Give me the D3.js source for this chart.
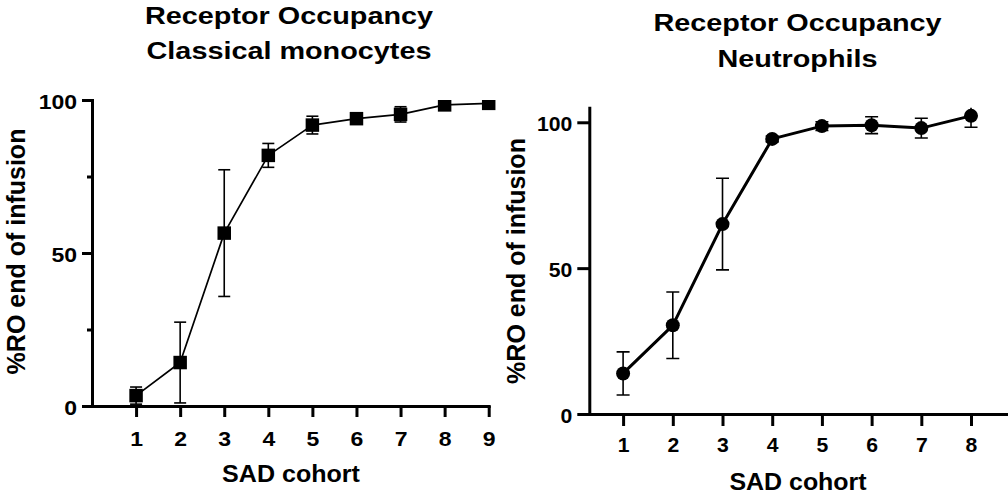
<!DOCTYPE html>
<html>
<head>
<meta charset="utf-8">
<script src="https://cdn.jsdelivr.net/npm/d3@7"></script>
<style>
  html, body { margin: 0; padding: 0; background: #fff; }
  svg { display: block; }
</style>
</head>
<body>
<script>
// ---- Data -------------------------------------------------------------
// Classical monocytes: mean %RO and SD per SAD cohort
const monoCohorts = [1, 2, 3, 4, 5, 6, 7, 8, 9];
const monoMean    = [3.4, 14.2, 56.5, 81.9, 91.8, 93.9, 95.3, 98.4, 98.9];
const monoSD      = [2.8, 13.2, 20.7, 3.9, 2.9, 1.8, 2.5, 1.0, 0.6];

// Neutrophils: mean %RO and SD per SAD cohort
const neutCohorts = [1, 2, 3, 4, 5, 6, 7, 8];
const neutMean    = [13.9, 30.4, 65.1, 94.3, 98.7, 99.0, 98.0, 102.2];
const neutSD      = [7.4, 11.4, 15.7, 1.0, 1.5, 2.9, 3.4, 3.9];

const yMajorTicks = [0, 50, 100];
const yMinorTicks = [25, 75];

const titleTop   = "Receptor Occupancy";
const monoTitle  = "Classical monocytes";
const neutTitle  = "Neutrophils";
const yLabelText = "%RO end of infusion";
const xLabelText = "SAD cohort";

// ---- Setup --------------------------------------------------------------
const FONT = "'Liberation Sans', Arial, Helvetica, sans-serif";
const W = 1008, H = 494;

const svg = d3.select("body").append("svg")
  .attr("width", W).attr("height", H)
  .attr("viewBox", `0 0 ${W} ${H}`);

// Bold text, optionally widened horizontally
function addText(parent, str, x, y, size, sx, anchor, rotate) {
  const tr = rotate
    ? `translate(${x},${y}) rotate(${rotate})`
    : `translate(${x},${y}) scale(${sx},1)`;
  return parent.append("text")
    .attr("transform", tr)
    .attr("text-anchor", anchor || "middle")
    .attr("font-family", FONT)
    .attr("font-weight", "bold")
    .attr("font-size", size)
    .attr("fill", "#000")
    .text(str);
}

function drawPanel(p) {
  const g = svg.append("g");
  const x = d3.scaleLinear().domain(p.xDomain).range(p.xRange);
  const y = d3.scaleLinear().domain(p.yDomain).range(p.yRange);

  // clip marks to the plotting area
  const clipId = "clip-" + p.id;
  svg.append("clipPath").attr("id", clipId)
    .append("rect")
    .attr("x", p.xRange[0]).attr("y", p.yRange[1])
    .attr("width", W - p.xRange[0]).attr("height", p.yRange[0] - p.yRange[1]);

  // y axis (major ticks with labels)
  const yAx = g.append("g")
    .attr("transform", `translate(${p.xRange[0]},0)`)
    .call(d3.axisLeft(y).tickValues(yMajorTicks).tickSize(p.yTick)
      .tickSizeOuter(0).tickPadding(0).tickFormat(d3.format("d")));
  yAx.select(".domain").attr("stroke-width", 3).attr("stroke-linecap", "square");
  yAx.selectAll(".tick line").attr("stroke-width", 3);
  yAx.selectAll(".tick text")
    .attr("font-family", FONT).attr("font-weight", "bold")
    .attr("font-size", p.tickFont).attr("fill", "#000")
    .attr("x", -(p.yTick + 5) / p.tickSx)
    .attr("dy", null).attr("y", p.yLabelShift)
    .attr("transform", `scale(${p.tickSx},1)`);

  // y axis minor ticks
  if (p.minor) {
    const yMin = g.append("g")
      .attr("transform", `translate(${p.xRange[0]},0)`)
      .call(d3.axisLeft(y).tickValues(yMinorTicks).tickSize(5)
        .tickSizeOuter(0).tickFormat(""));
    yMin.select(".domain").remove();
    yMin.selectAll(".tick line").attr("stroke-width", 3);
  }

  // x axis
  const xAx = g.append("g")
    .attr("transform", `translate(0,${p.yRange[0]})`)
    .call(d3.axisBottom(x).tickValues(p.cohorts).tickSize(p.xTick)
      .tickSizeOuter(0).tickFormat(d3.format("d")));
  xAx.select(".domain").attr("stroke-width", 3).attr("stroke-linecap", "square");
  xAx.selectAll(".tick line").attr("stroke-width", 3);
  xAx.selectAll(".tick text")
    .attr("font-family", FONT).attr("font-weight", "bold")
    .attr("font-size", p.tickFont).attr("fill", "#000")
    .attr("dy", null).attr("y", p.xLabelBase)
    .attr("transform", `scale(${p.tickSx},1)`);

  const rows = p.cohorts.map((c, i) => ({ c, m: p.mean[i], sd: p.sd[i] }));
  const marks = g.append("g").attr("clip-path", `url(#${clipId})`);

  // error bars
  const eb = marks.append("g").attr("stroke", "#000")
    .attr("stroke-width", 1.6).attr("fill", "none");
  rows.forEach(r => {
    const cx = x(r.c);
    const y1 = y(r.m + r.sd), y0 = y(r.m - r.sd);
    eb.append("line").attr("x1", cx).attr("x2", cx).attr("y1", y1).attr("y2", y0);
    eb.append("line").attr("x1", cx - p.cap).attr("x2", cx + p.cap).attr("y1", y1).attr("y2", y1);
    eb.append("line").attr("x1", cx - p.cap).attr("x2", cx + p.cap).attr("y1", y0).attr("y2", y0);
  });

  // connecting line
  marks.append("path").datum(rows)
    .attr("fill", "none").attr("stroke", "#000")
    .attr("stroke-width", p.lineW).attr("stroke-linejoin", "round")
    .attr("d", d3.line().x(d => x(d.c)).y(d => y(d.m)));

  // markers
  marks.selectAll("path.marker").data(rows).enter().append("path")
    .attr("class", "marker")
    .attr("transform", d => `translate(${x(d.c)},${y(d.m)})`)
    .attr("d", d3.symbol().type(p.symbol).size(p.symbolSize))
    .attr("fill", "#000");

  // titles and axis labels
  addText(g, titleTop, p.titleX, p.titleY1, 24, 1.2);
  addText(g, p.title, p.titleX, p.titleY2, 24, 1.2);
  addText(g, xLabelText, p.xLabelX, p.xLabelY, p.xLabelFont, p.xLabelSx);
  addText(g, yLabelText, p.yLabelX, p.yLabelY, 25, 1, "middle", -90);
}

drawPanel({
  id: "mono",
  cohorts: monoCohorts, mean: monoMean, sd: monoSD,
  xDomain: [0, 9], xRange: [92, 488.7],
  yDomain: [0, 100], yRange: [406, 100],
  yTick: 10, xTick: 11, minor: true,
  tickFont: 20, tickSx: 1.15, yLabelShift: 8.7, xLabelBase: 40,
  cap: 6, lineW: 1.7,
  symbol: d3.symbolSquare, symbolSize: 13.5 * 13.5,
  title: monoTitle, titleX: 289, titleY1: 24, titleY2: 58.5,
  xLabelX: 291, xLabelY: 481.7, xLabelFont: 23, xLabelSx: 1.09,
  yLabelX: 25, yLabelY: 251.5
});

drawPanel({
  id: "neut",
  cohorts: neutCohorts, mean: neutMean, sd: neutSD,
  xDomain: [0.32, 8.75], xRange: [589.3, 1008.3],
  yDomain: [0, 105], yRange: [414, 107.7],
  yTick: 12, xTick: 12, minor: false,
  tickFont: 20, tickSx: 1.06, yLabelShift: 8.4, xLabelBase: 37.7,
  cap: 6.5, lineW: 3,
  symbol: d3.symbolCircle, symbolSize: Math.PI * 7 * 7,
  title: neutTitle, titleX: 797.5, titleY1: 30.5, titleY2: 66.7,
  xLabelX: 798, xLabelY: 490, xLabelFont: 24, xLabelSx: 1.04,
  yLabelX: 525, yLabelY: 261
});
</script>
</body>
</html>
